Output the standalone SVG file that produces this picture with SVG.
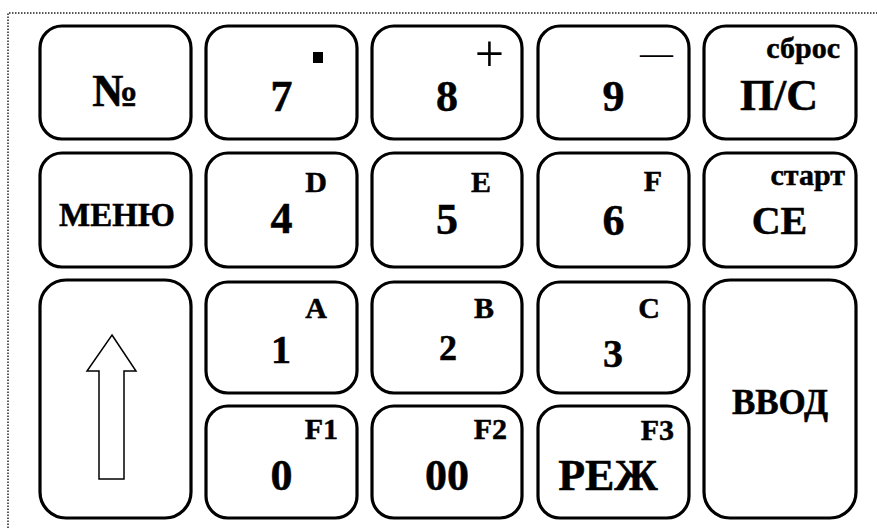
<svg xmlns="http://www.w3.org/2000/svg" width="877" height="528" viewBox="0 0 877 528">
<style>
.key{fill:#fff;stroke:#000;stroke-width:3.2}
.t{font-family:"Liberation Serif","Times New Roman",serif;font-weight:bold;fill:#000;stroke:#000;stroke-width:0.5}
.m{text-anchor:middle;font-size:44px}
.s{text-anchor:end;font-size:30px}
.border{fill:none;stroke:#222;stroke-width:1.5;stroke-dasharray:1.5 1.5}
</style>
<rect width="877" height="528" fill="#fff"/>
<path class="border" d="M8,528 V13 H877"/>
<g id="k_no"><rect class="key" x="40" y="26" width="151" height="113" rx="22"/><text class="t" x="115" y="106" font-size="46" text-anchor="middle">№</text></g>
<g id="k_7"><rect class="key" x="206" y="26" width="151" height="113" rx="22"/><text class="t m" x="281.5" y="111">7</text><rect x="313" y="52" width="10" height="11" fill="#000"/></g>
<g id="k_8"><rect class="key" x="372" y="26" width="150" height="113" rx="22"/><text class="t m" x="447" y="111">8</text><text x="489.5" y="71" font-family="Liberation Serif,serif" font-size="52" text-anchor="middle">+</text></g>
<g id="k_9"><rect class="key" x="538" y="26" width="151" height="113" rx="22"/><text class="t m" x="613.5" y="111">9</text><text x="656.5" y="64" font-family="Liberation Serif,serif" font-size="33" text-anchor="middle">—</text></g>
<g id="k_ps"><rect class="key" x="704" y="26" width="152" height="113" rx="22"/><text class="t m" x="779" y="110">П/С</text><text class="t s" x="840" y="58" font-size="31">сброс</text></g>

<g id="k_menu"><rect class="key" x="40" y="153" width="151" height="114" rx="22"/><text class="t" x="117" y="226" font-size="33" text-anchor="middle">МЕНЮ</text></g>
<g id="k_4"><rect class="key" x="206" y="153" width="151" height="114" rx="22"/><text class="t m" x="281.5" y="233">4</text><text class="t s" x="327" y="192">D</text></g>
<g id="k_5"><rect class="key" x="372" y="153" width="150" height="114" rx="22"/><text class="t m" x="447" y="234">5</text><text class="t s" x="491" y="192">E</text></g>
<g id="k_6"><rect class="key" x="538" y="153" width="151" height="114" rx="22"/><text class="t m" x="613.5" y="235">6</text><text class="t s" x="662" y="191">F</text></g>
<g id="k_ce"><rect class="key" x="704" y="153" width="152" height="114" rx="22"/><text class="t" x="779.5" y="234" font-size="40" text-anchor="middle">CE</text><text class="t s" x="845" y="185" font-size="31">старт</text></g>

<g id="k_shift"><rect class="key" x="40" y="280" width="151" height="238" rx="26"/><path d="M112,335 L136,371 L124,371 L124,479 L99,479 L99,371 L87,371 Z" fill="#fff" stroke="#000" stroke-width="1.5"/></g>
<g id="k_1"><rect class="key" x="206" y="282" width="151" height="111" rx="22"/><text class="t" x="281" y="363" font-size="40" text-anchor="middle">1</text><text class="t s" x="327" y="318" font-size="26">A</text></g>
<g id="k_2"><rect class="key" x="372" y="282" width="150" height="111" rx="22"/><text class="t" x="448" y="360" font-size="36" text-anchor="middle">2</text><text class="t s" x="494" y="318" font-size="26">B</text></g>
<g id="k_3"><rect class="key" x="538" y="282" width="151" height="111" rx="22"/><text class="t" x="613" y="367" font-size="40" text-anchor="middle">3</text><text class="t s" x="660" y="318">C</text></g>
<g id="k_enter"><rect class="key" x="704" y="280" width="152" height="238" rx="26"/><text class="t" x="780" y="414" font-size="35" text-anchor="middle">ВВОД</text></g>

<g id="k_0"><rect class="key" x="206" y="406" width="151" height="112" rx="22"/><text class="t m" x="281.5" y="490">0</text><text class="t s" x="338" y="439">F1</text></g>
<g id="k_00"><rect class="key" x="372" y="406" width="150" height="112" rx="22"/><text class="t m" x="447" y="490">00</text><text class="t s" x="507" y="439">F2</text></g>
<g id="k_rez"><rect class="key" x="538" y="406" width="151" height="112" rx="22"/><text class="t m" x="608" y="490">РЕЖ</text><text class="t s" x="674" y="440">F3</text></g>
</svg>
